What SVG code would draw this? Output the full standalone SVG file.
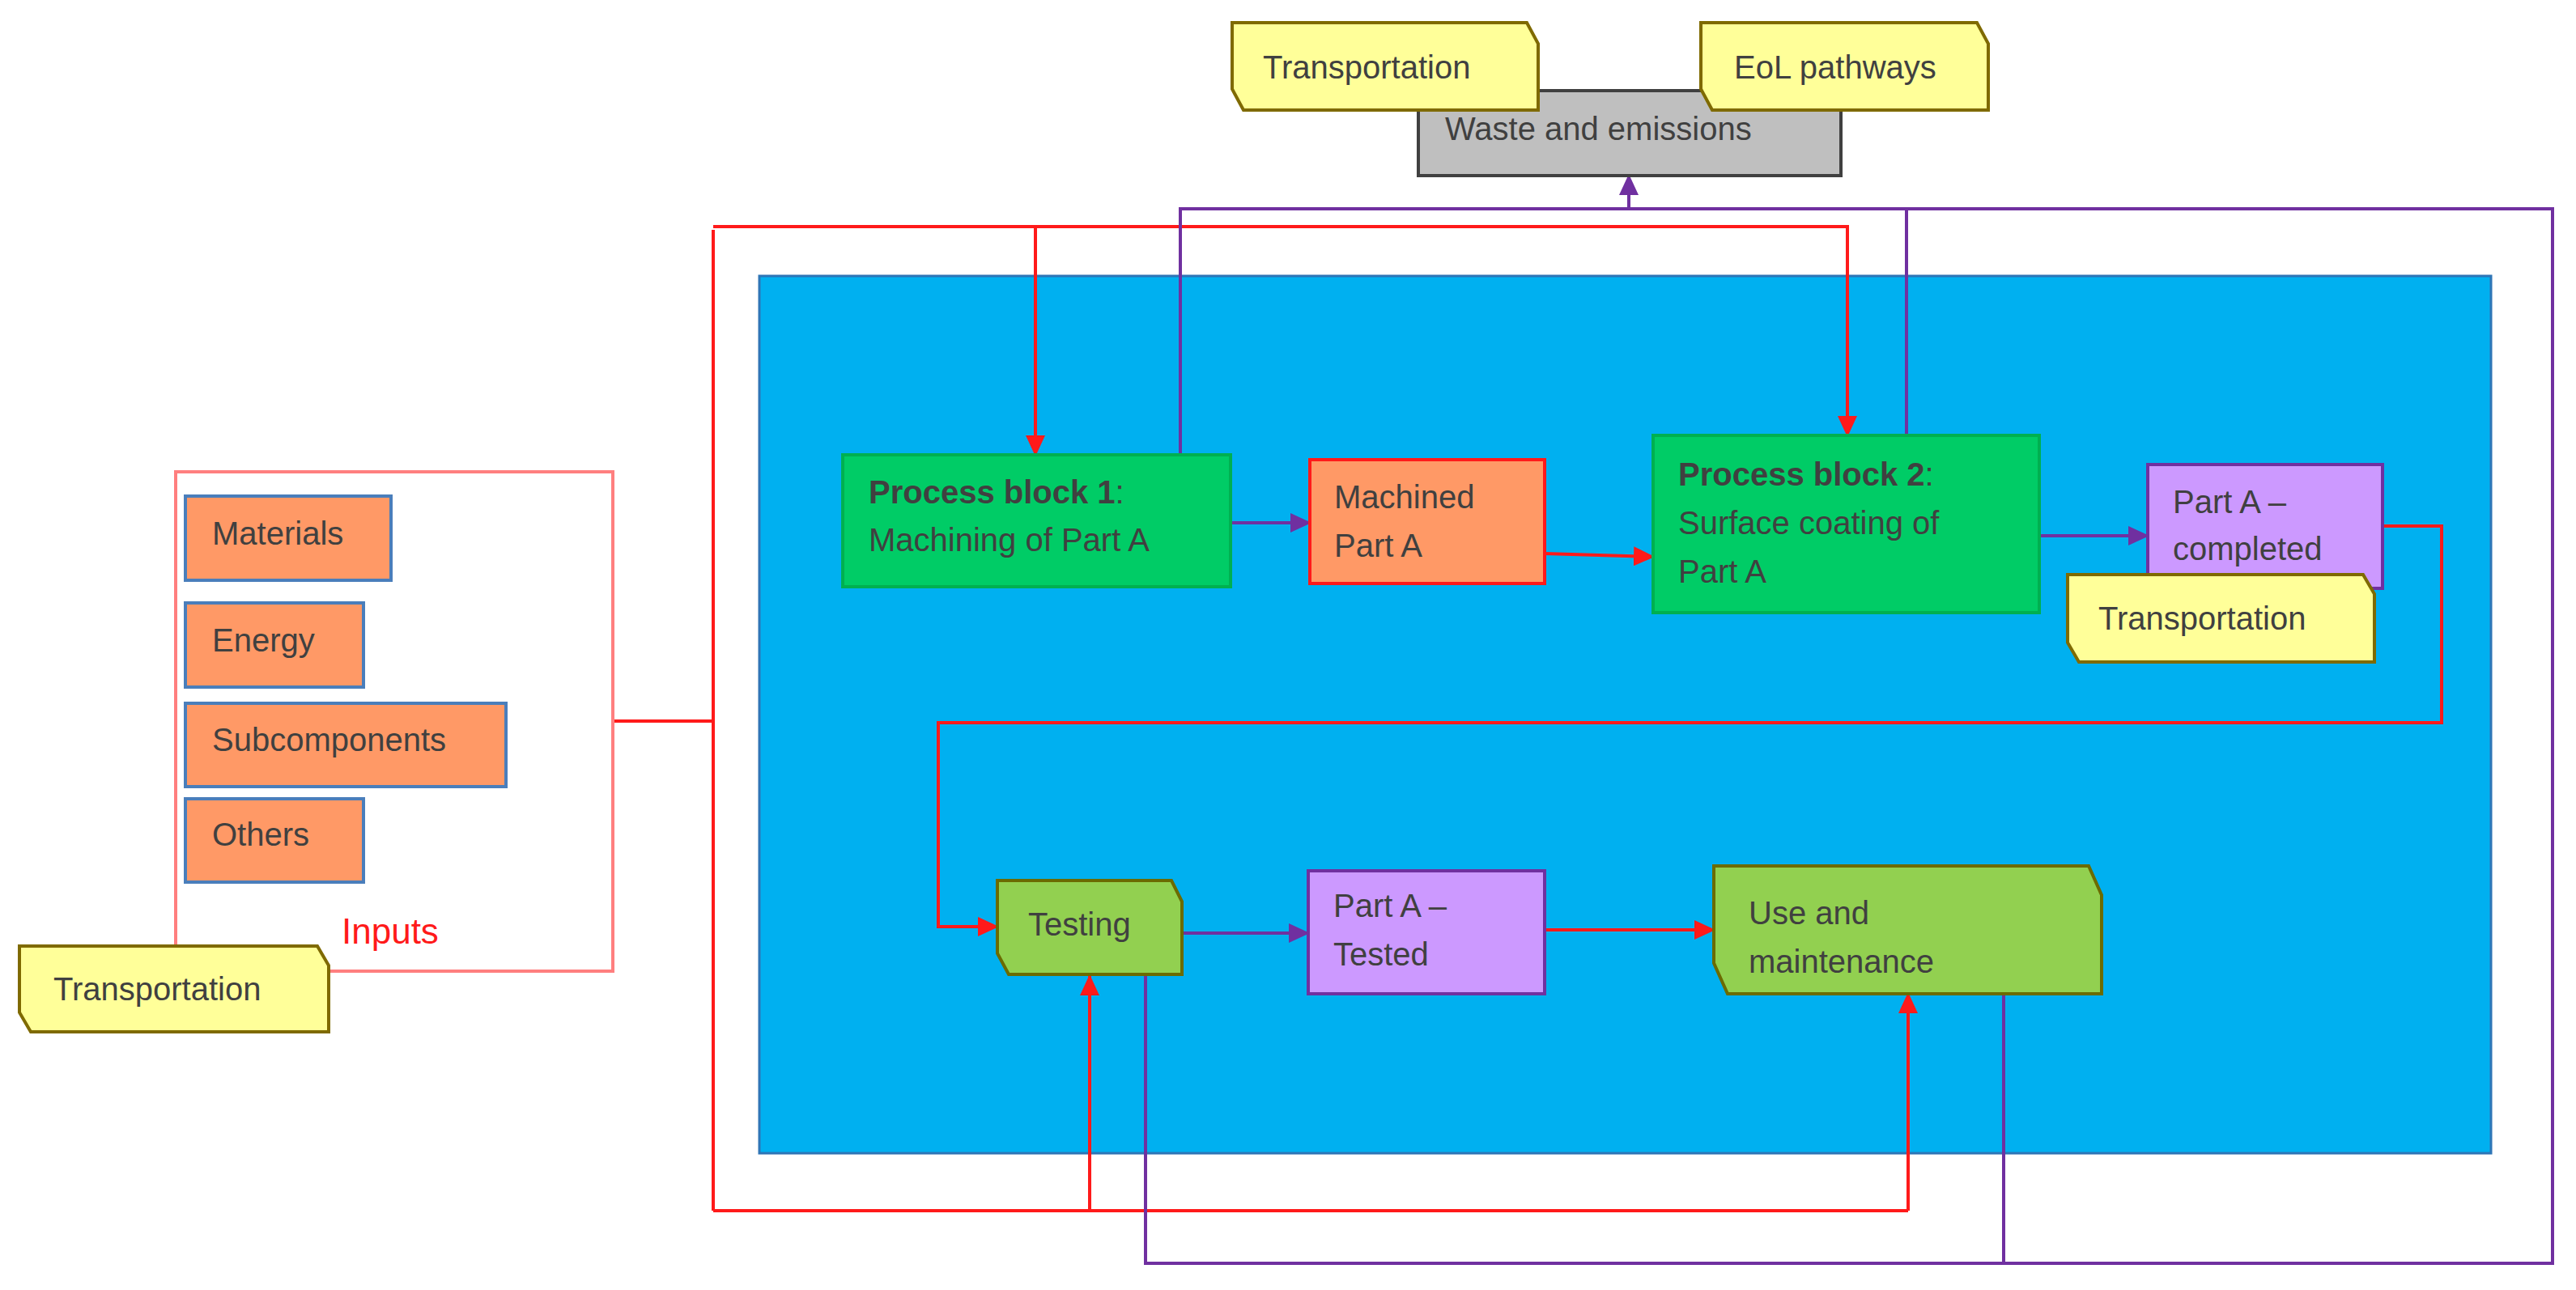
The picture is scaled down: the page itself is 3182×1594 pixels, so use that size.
<svg xmlns="http://www.w3.org/2000/svg" width="3182" height="1594" viewBox="0 0 3182 1594">
<defs>
<style>
text{font-family:"Liberation Sans",Arial,sans-serif;font-size:40px;fill:#404040}
.b{font-weight:bold}
.yel{fill:#ffff99;stroke:#7f6a00;stroke-width:4}
.org{fill:#ff9966;stroke:#4a7ebb;stroke-width:4}
.r{stroke:#ff1a1a;stroke-width:4;fill:none}
.p{stroke:#7030a0;stroke-width:4;fill:none}
.ra{marker-end:url(#ar)}
.pa{marker-end:url(#ap)}
</style>
<marker id="ar" markerUnits="userSpaceOnUse" markerWidth="26" markerHeight="24" refX="24" refY="12" orient="auto"><path d="M0,0L26,12L0,24z" fill="#ff1a1a"/></marker>
<marker id="ap" markerUnits="userSpaceOnUse" markerWidth="26" markerHeight="24" refX="24" refY="12" orient="auto"><path d="M0,0L26,12L0,24z" fill="#7030a0"/></marker>
</defs>
<rect x="938" y="341" width="2139" height="1084" fill="#00b0f0" stroke="#2e75b6" stroke-width="3"/>
<g id="connectors">
<path class="r" d="M757,891H881"/>
<path class="r" d="M881,284V1496"/>
<path class="r ra" d="M881,280H2282V538"/>
<path class="r ra" d="M1279,280V562"/>
<path class="r" d="M881,1496H2357"/>
<path class="r ra" d="M2357,1496V1228"/>
<path class="r ra" d="M1346,1496V1206"/>
<path class="r ra" d="M2943,650H3016V893H1159V1145H1232"/>
<path class="r ra" d="M1908,684L2042,688"/>
<path class="r ra" d="M1908,1149H2117"/>
<path class="p pa" d="M1520,646H1618"/>
<path class="p pa" d="M2519,662H2653"/>
<path class="p pa" d="M1460,1153H1616"/>
<path class="p" d="M1458,562V258H3153V1561H1415V1204"/>
<path class="p" d="M2355,538V258"/>
<path class="p" d="M2475,1228V1563"/>
<path class="p pa" d="M2012,258V217"/>
</g>
<g id="waste"><rect x="1752" y="112" width="522" height="105" fill="#bfbfbf" stroke="#404040" stroke-width="4"/><text x="1785" y="173">Waste and emissions</text></g>
<g id="transport-top"><path class="yel" d="M1522,28H1886L1900,54V136H1536L1522,110Z"/><text x="1560" y="97">Transportation</text></g>
<g id="eol"><path class="yel" d="M2101,28H2442L2456,54V136H2115L2101,110Z"/><text x="2142" y="97">EoL pathways</text></g>
<g id="inputs"><rect x="217" y="583" width="540" height="617" fill="#fff" stroke="#ff7f7f" stroke-width="4"/><text x="422" y="1166" style="fill:#ff1a1a;font-size:44px">Inputs</text></g>
<g id="materials"><rect class="org" x="229" y="613" width="254" height="104"/><text x="262" y="673">Materials</text></g>
<g id="energy"><rect class="org" x="229" y="745" width="220" height="104"/><text x="262" y="805">Energy</text></g>
<g id="subcomponents"><rect class="org" x="229" y="869" width="396" height="103"/><text x="262" y="928">Subcomponents</text></g>
<g id="others"><rect class="org" x="229" y="987" width="220" height="103"/><text x="262" y="1045">Others</text></g>
<g id="transport-left"><path class="yel" d="M24,1169H392L406,1193V1275H38L24,1251Z"/><text x="66" y="1236">Transportation</text></g>
<g id="pb1"><rect x="1041" y="562" width="479" height="163" fill="#00cc66" stroke="#00b050" stroke-width="4"/><text x="1073" y="622"><tspan class="b">Process block 1</tspan>:</text><text x="1073" y="681">Machining of Part A</text></g>
<g id="machined"><rect x="1618" y="568" width="290" height="153" fill="#ff9966" stroke="#ff1a1a" stroke-width="4"/><text x="1648" y="628">Machined</text><text x="1648" y="688">Part A</text></g>
<g id="pb2"><rect x="2042" y="538" width="477" height="219" fill="#00cc66" stroke="#00b050" stroke-width="4"/><text x="2073" y="600"><tspan class="b">Process block 2</tspan>:</text><text x="2073" y="660">Surface coating of</text><text x="2073" y="720">Part A</text></g>
<g id="completed"><rect x="2653" y="574" width="290" height="153" fill="#cc99ff" stroke="#7030a0" stroke-width="4"/><text x="2684" y="634">Part A –</text><text x="2684" y="692">completed</text></g>
<g id="transport-right"><path class="yel" d="M2554,710H2919L2933,734V818H2568L2554,794Z"/><text x="2592" y="778">Transportation</text></g>
<g id="testing"><path d="M1232,1088H1447L1460,1114V1204H1246L1232,1178Z" fill="#92d050" stroke="#6b6b00" stroke-width="4"/><text x="1270" y="1156">Testing</text></g>
<g id="tested"><rect x="1616" y="1076" width="292" height="152" fill="#cc99ff" stroke="#7030a0" stroke-width="4"/><text x="1647" y="1133">Part A –</text><text x="1647" y="1193">Tested</text></g>
<g id="use"><path d="M2117,1070H2580L2596,1106V1228H2134L2117,1190Z" fill="#92d050" stroke="#6b6b00" stroke-width="4"/><text x="2160" y="1142">Use and</text><text x="2160" y="1202">maintenance</text></g>
</svg>
